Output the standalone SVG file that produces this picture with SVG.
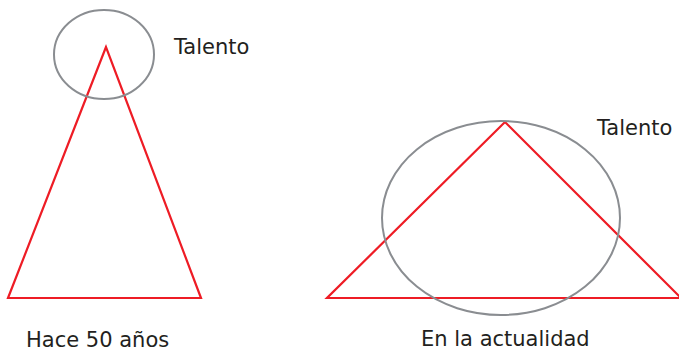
<svg xmlns="http://www.w3.org/2000/svg" width="679" height="352" viewBox="0 0 679 352">
<style>
.tri{fill:none;stroke:#ee1c25;stroke-width:2.2;stroke-linejoin:miter}
.ell{fill:none;stroke:#8a8d91;stroke-width:2}
.lbl{font-family:"DejaVu Sans",Verdana,sans-serif;font-size:21px;fill:#231f20}
</style>
<rect width="679" height="352" fill="#fff"/>
<g id="past">
<polygon class="tri" points="106,47 8,298 201,298"/>
<ellipse class="ell" cx="104" cy="54.5" rx="50" ry="44.5"/>
<text class="lbl" x="174" y="54">Talento</text>
<text class="lbl" x="26" y="347">Hace 50 años</text>
</g>
<g id="present">
<polygon class="tri" points="505,122 327,298 681,298"/>
<ellipse class="ell" cx="501" cy="218" rx="119" ry="97"/>
<text class="lbl" x="597" y="135">Talento</text>
<text class="lbl" x="421" y="346">En la actualidad</text>
</g>
<g id="connectors"/>
</svg>
